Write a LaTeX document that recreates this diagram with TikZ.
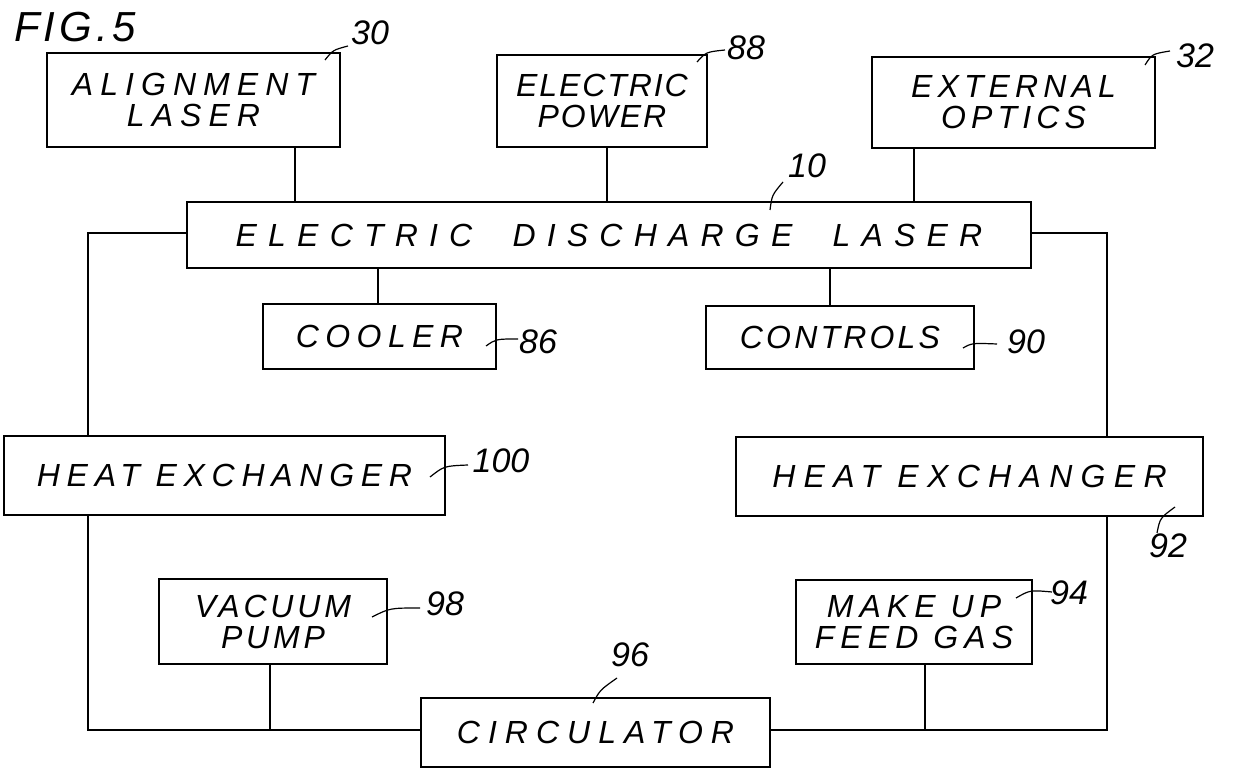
\documentclass[tikz,border=0pt]{standalone}
\usepackage{fontspec}
\setmainfont{Liberation Sans}
\usepackage{tikz}

\begin{document}
\begin{tikzpicture}[x=0.5pt, y=-0.5pt,
  blk/.style n args={3}{draw, line width=1pt, inner sep=0pt, align=center,
    minimum width=#1pt, minimum height=#2pt,
    font=\itshape\addfontfeatures{LetterSpace=#3}\fontsize{16}{15.5}\selectfont},
  num/.style={inner sep=0pt, font=\itshape\fontsize{17}{17}\selectfont},
  wire/.style={line width=0.7pt},
  lead/.style={line width=0.6pt}]

% Page
\path[fill=white,use as bounding box] (0,0) rectangle (1235,769);

% Figure title
\node[inner sep=0pt, font=\itshape\addfontfeatures{LetterSpace=10}\fontsize{21}{21}\selectfont] (fig) at (75,27) {FIG.5};

% Top row
\node[blk={146.5}{47}{22}] (align) at (193.5,100) {ALIGNMENT\\LASER};
\node[blk={105}{46}{6}] (power) at (602,101) {ELECTRIC\\POWER};
\node[blk={141.5}{45.5}{16}] (optics) at (1013.5,102.5) {EXTERNAL\\OPTICS};

% Laser
\node[blk={422}{33}{35}] (laser) at (609,235) {ELECTRIC\ \ DISCHARGE\ \ LASER};

% Cooler and controls
\node[blk={116.5}{32.5}{20}] (cooler) at (379.5,336.5) {COOLER};
\node[blk={134}{31.5}{10}] (controls) at (840,337.5) {CONTROLS};

% Heat exchangers
\node[blk={220.5}{39.5}{21}] (hexl) at (224.5,475.5) {HEAT EXCHANGER};
\node[blk={233.5}{39.5}{26}] (hexr) at (969.5,476.5) {HEAT EXCHANGER};

% Bottom row
\node[blk={114}{42.5}{12}] (vacuum) at (273,621.5) {VACUUM\\PUMP};
\node[blk={118}{42}{19}] (makeup) at (914,622) {MAKE UP\\FEED GAS};
\node[blk={174.5}{34.5}{25}] (circ) at (595.5,732.5) {CIRCULATOR};

% Connections to laser
\draw[wire] (align.south -| 295,0) -- (laser.north -| 295,0);
\draw[wire] (power.south -| 607,0) -- (laser.north -| 607,0);
\draw[wire] (optics.south -| 914,0) -- (laser.north -| 914,0);
\draw[wire] (laser.south -| 378,0) -- (cooler.north -| 378,0);
\draw[wire] (laser.south -| 830,0) -- (controls.north -| 830,0);

% Gas loop
\coordinate (vjoin) at (270,730);
\coordinate (mjoin) at (925,730);
\draw[wire] (laser.west |- 0,233) -| (hexl.north -| 88,0);
\draw[wire] (laser.east |- 0,233) -| (hexr.north -| 1107,0);
\draw[wire] (hexl.south -| 88,0) |- (circ.west |- 0,730);
\draw[wire] (hexr.south -| 1107,0) |- (circ.east |- 0,730);
\draw[wire] (vacuum.south -| vjoin) -- (vjoin);
\draw[wire] (makeup.south -| mjoin) -- (mjoin);

% Reference numerals
\node[num] (n30) at (370,33) {30};
\node[num] (n88) at (746,48) {88};
\node[num] (n32) at (1195,56) {32};
\node[num] (n10) at (807,166) {10};
\node[num] (n86) at (538,342) {86};
\node[num] (n90) at (1026,342) {90};
\node[num] (n100) at (501,461) {100};
\node[num] (n92) at (1168,546) {92};
\node[num] (n98) at (445,604) {98};
\node[num] (n94) at (1069,593) {94};
\node[num] (n96) at (630,655) {96};

% Leaders
\draw[lead] (325,60) .. controls (333,50) .. (348,46);
\draw[lead] (697,62) .. controls (706,52) .. (725,50);
\draw[lead] (1145,65) .. controls (1152,54) .. (1170,51);
\draw[lead] (770,210) .. controls (772,195) .. (783,182);
\draw[lead] (486,346) .. controls (496,339) .. (518,339);
\draw[lead] (963,348) .. controls (972,343) .. (997,344);
\draw[lead] (430,477) .. controls (444,466) .. (468,465);
\draw[lead] (1175,507) .. controls (1160,518) .. (1157,533);
\draw[lead] (372,617) .. controls (390,608) .. (420,608);
\draw[lead] (1016,598) .. controls (1030,590) .. (1052,592);
\draw[lead] (593,703) .. controls (600,690) .. (617,678);

\end{tikzpicture}
\end{document}
